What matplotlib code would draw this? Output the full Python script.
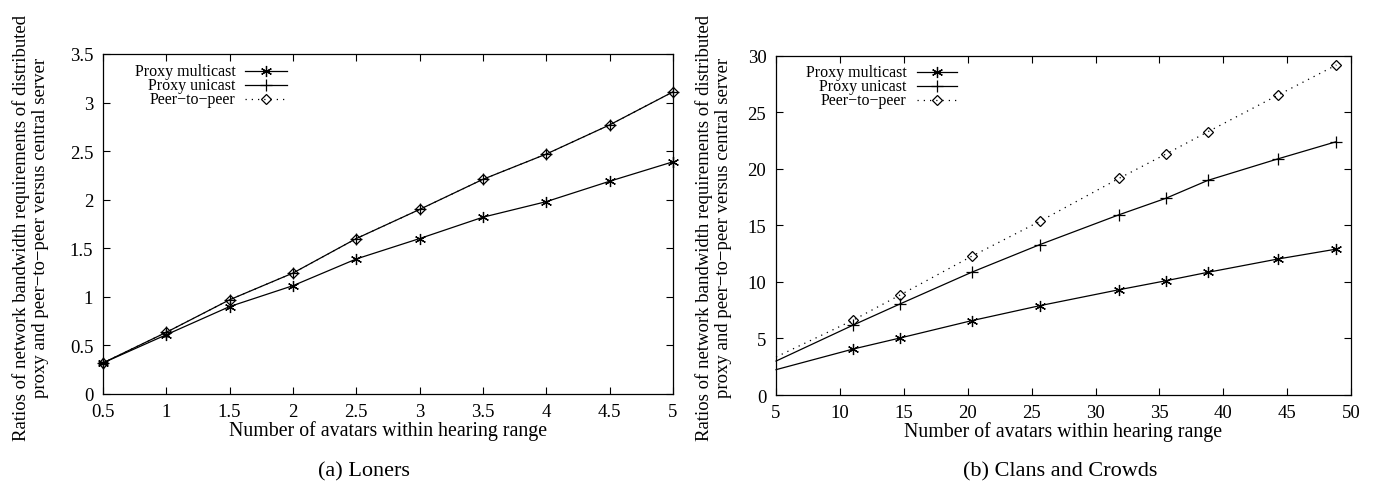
import matplotlib
matplotlib.use("Agg")
import matplotlib.pyplot as plt

plt.rcParams['font.family'] = ['Liberation Serif', 'DejaVu Serif']

# (a) Loners
loners_x = [0.5, 1, 1.5, 2, 2.5, 3, 3.5, 4, 4.5, 5]
loners_multicast = [0.32, 0.61, 0.90, 1.115, 1.39, 1.60, 1.82, 1.98, 2.19, 2.39]
loners_unicast = [0.32, 0.635, 0.97, 1.245, 1.60, 1.90, 2.21, 2.47, 2.77, 3.11]
loners_p2p = [0.32, 0.635, 0.97, 1.245, 1.60, 1.90, 2.21, 2.47, 2.77, 3.11]

# (b) Clans and Crowds (first point sits on the axis edge, no marker)
crowds_x = [5, 11.05, 14.7, 20.3, 25.65, 31.85, 35.5, 38.8, 44.25, 48.85]
crowds_multicast = [2.24, 4.07, 5.04, 6.57, 7.9, 9.31, 10.1, 10.85, 12.02, 12.9]
crowds_unicast = [3.0, 6.19, 8.05, 10.85, 13.3, 15.94, 17.39, 18.98, 20.87, 22.4]
crowds_p2p = [3.36, 6.63, 8.84, 12.26, 15.36, 19.16, 21.3, 23.28, 26.5, 29.18]

series_names = ['Proxy multicast', 'Proxy unicast', 'Peer\u2212to\u2212peer']
ylabel = ('Ratios of network bandwidth requirements of distributed\n'
          'proxy and peer\u2212to\u2212peer versus central server')
xlabel = 'Number of avatars within hearing range'

star = (6, 2, 0)
styles = [
    dict(marker=star, ls='-', ms=8, mew=0.9),
    dict(marker='+', ls='-', ms=9, mew=0.9),
    dict(marker='D', ls=(0, (1, 4)), ms=5.5, mew=0.9, mfc='none'),
]

fig = plt.figure(figsize=(13.75, 4.85), dpi=100)
ax1 = fig.add_axes([0.0749, 0.1856, 0.4145, 0.701])
ax2 = fig.add_axes([0.5644, 0.1835, 0.4182, 0.6996])


def draw(ax, x, ys, markevery, leg_x, leg_y):
    for y, st, name in zip(ys, styles, series_names):
        ax.plot(x, y, color='black', lw=0.9, markevery=markevery,
                clip_on=False, **st)
    # gnuplot style key: right-aligned text, sample line to the right
    tx, lx0, lx1 = leg_x
    for yy, st, name in zip(leg_y, styles, series_names):
        ax.text(tx, yy, name, transform=ax.transAxes, ha='right', va='center',
                fontsize=11.5)
        ax.plot([lx0, lx1], [yy, yy], transform=ax.transAxes, color='black',
                lw=0.9, ls=st['ls'])
        ax.plot([(lx0 + lx1) / 2], [yy], transform=ax.transAxes, color='black',
                ls='none', **{k: v for k, v in st.items() if k != 'ls'})
    ax.tick_params(direction='in', length=5, width=0.8, top=True, right=True,
                   labelsize=13.5)
    ax.tick_params(axis='x', pad=6.5)
    ax.tick_params(axis='y', pad=7)
    for s in ax.spines.values():
        s.set_linewidth(0.9)
    ax.set_xlabel(xlabel, fontsize=14.3, labelpad=0)


draw(ax1, loners_x, [loners_multicast, loners_unicast, loners_p2p], None,
     (0.233, 0.249, 0.323), [0.951, 0.910, 0.868])
ax1.set_xlim(0.5, 5)
ax1.set_ylim(0, 3.5)
ax1.set_xticks([0.5, 1, 1.5, 2, 2.5, 3, 3.5, 4, 4.5, 5])
ax1.set_xticklabels(['0.5', '1', '1.5', '2', '2.5', '3', '3.5', '4', '4.5', '5'])
ax1.set_yticks([0, 0.5, 1, 1.5, 2, 2.5, 3, 3.5])
ax1.set_yticklabels(['0', '0.5', '1', '1.5', '2', '2.5', '3', '3.5'])

draw(ax2, crowds_x, [crowds_multicast, crowds_unicast, crowds_p2p],
     list(range(1, len(crowds_x))),
     (0.227, 0.245, 0.315), [0.951, 0.910, 0.869])
ax2.set_xlim(5, 50)
ax2.set_ylim(0, 30)
ax2.set_xticks(range(5, 51, 5))
ax2.set_yticks(range(0, 31, 5))

fig.text(0.0225, 0.53, ylabel, rotation=90, ha='center', va='center',
         fontsize=13.5, linespacing=1.15, multialignment='center')
fig.text(0.519, 0.53, ylabel, rotation=90, ha='center', va='center',
         fontsize=13.5, linespacing=1.15, multialignment='center')

fig.text(364 / 1375, 1 - 472 / 485, '(a) Loners', ha='center', va='center',
         fontsize=16)
fig.text(1060 / 1375, 1 - 472 / 485, '(b) Clans and Crowds', ha='center',
         va='center', fontsize=16)

fig.savefig('out.png', dpi=100)
